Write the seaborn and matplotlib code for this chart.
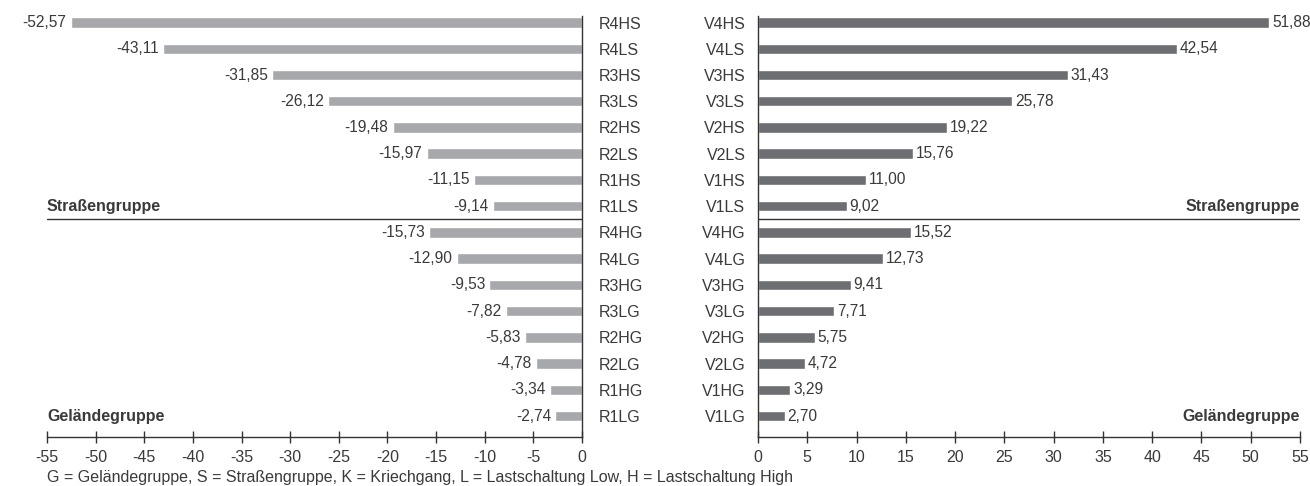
import pandas as pd
import numpy as np
import matplotlib.pyplot as plt
import seaborn as sns

# Reverse gears (left) and forward gears (right), top to bottom
rev_gears = ['R4HS', 'R4LS', 'R3HS', 'R3LS', 'R2HS', 'R2LS', 'R1HS', 'R1LS',
             'R4HG', 'R4LG', 'R3HG', 'R3LG', 'R2HG', 'R2LG', 'R1HG', 'R1LG']
rev_speed = [-52.57, -43.11, -31.85, -26.12, -19.48, -15.97, -11.15, -9.14,
             -15.73, -12.90, -9.53, -7.82, -5.83, -4.78, -3.34, -2.74]

fwd_gears = ['V4HS', 'V4LS', 'V3HS', 'V3LS', 'V2HS', 'V2LS', 'V1HS', 'V1LS',
             'V4HG', 'V4LG', 'V3HG', 'V3LG', 'V2HG', 'V2LG', 'V1HG', 'V1LG']
fwd_speed = [51.88, 42.54, 31.43, 25.78, 19.22, 15.76, 11.00, 9.02,
             15.52, 12.73, 9.41, 7.71, 5.75, 4.72, 3.29, 2.70]

group_labels = ['Straßengruppe', 'Geländegruppe']
footnote = 'G = Geländegruppe, S = Straßengruppe, K = Kriechgang, L = Lastschaltung Low, H = Lastschaltung High'

rev_df = pd.DataFrame({'gear': rev_gears, 'speed': rev_speed})
fwd_df = pd.DataFrame({'gear': fwd_gears, 'speed': fwd_speed})

sns.set_style('white')
plt.rcParams['font.family'] = ['Liberation Sans', 'DejaVu Sans']
text_col = '#3a3a3a'
light = '#a7a8ab'
dark = '#6d6e71'
fs = 11.5

fig = plt.figure(figsize=(13.1, 4.86), dpi=100)
ax_l = fig.add_axes([47 / 1310, 1 - 437 / 486, 535 / 1310, 421 / 486])
ax_r = fig.add_axes([758 / 1310, 1 - 437 / 486, 542 / 1310, 421 / 486])

sns.barplot(data=rev_df, x='speed', y='gear', orient='h', color=light,
            width=0.4, saturation=1, ax=ax_l)
sns.barplot(data=fwd_df, x='speed', y='gear', orient='h', color=dark,
            width=0.4, saturation=1, ax=ax_r)

def fmt(v):
    s = f'{abs(v):.2f}'.replace('.', ',')
    return s if v >= 0 else '-' + s

ax_l.bar_label(ax_l.containers[0], labels=[fmt(v) for v in rev_speed],
               padding=3, fontsize=11.2, color=text_col)
ax_r.bar_label(ax_r.containers[0], labels=[fmt(v) for v in fwd_speed],
               padding=2, fontsize=11.2, color=text_col)

ax_l.set_xlim(-55, 0)
ax_r.set_xlim(0, 55)
for ax in (ax_l, ax_r):
    ax.set_ylim(15.8, -0.25)
    ax.set_xlabel('')
    ax.set_ylabel('')
    ax.set_xticks(np.arange(ax.get_xlim()[0], ax.get_xlim()[1] + 1, 5))
    ax.set_xticklabels([str(int(t)) for t in ax.get_xticks()])
    ax.tick_params(axis='x', direction='inout', length=8, width=1, colors='#333333',
                   labelsize=fs, labelcolor=text_col, pad=5, bottom=True)
    ax.tick_params(axis='y', length=0, labelsize=fs, labelcolor=text_col)
    for s in ax.spines.values():
        s.set_color('#333333')
        s.set_linewidth(1)
    ax.spines['top'].set_visible(False)
    # separator between road and off-road group
    ax.axhline(7.5, color='#333333', lw=1)

ax_l.spines['left'].set_visible(False)
ax_l.yaxis.tick_right()
ax_l.tick_params(axis='y', pad=12)
ax_r.spines['right'].set_visible(False)
ax_r.tick_params(axis='y', pad=9)

# group names
ax_l.text(-55, 7, group_labels[0], ha='left', va='center', fontsize=fs,
          fontweight='bold', color=text_col)
ax_l.text(-55, 15, group_labels[1], ha='left', va='center', fontsize=fs,
          fontweight='bold', color=text_col)
ax_r.text(55, 7, group_labels[0], ha='right', va='center', fontsize=fs,
          fontweight='bold', color=text_col)
ax_r.text(55, 15, group_labels[1], ha='right', va='center', fontsize=fs,
          fontweight='bold', color=text_col)

fig.text(47 / 1310, 1 - 477 / 486, footnote, ha='left', va='center',
         fontsize=fs, color=text_col)

plt.savefig('out.png', dpi=100)
